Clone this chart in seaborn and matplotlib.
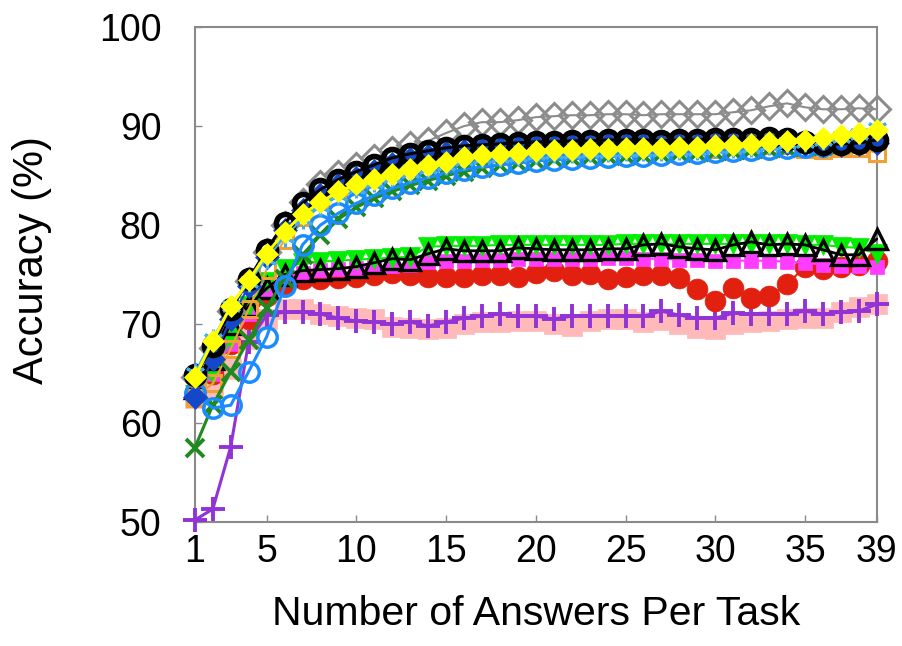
import matplotlib
matplotlib.use("Agg")
import matplotlib.pyplot as plt
import pandas as pd
import seaborn as sns

# ---------------- data ----------------
answers = list(range(1, 40))
x_ticks = [1, 5, 10, 15, 20, 25, 30, 35, 39]
y_ticks = [50, 60, 70, 80, 90, 100]

pink_squares = [62.5, 63.5, 65.5, 68.5, 70.5, 71.5, 71.5, 71.0, 70.8, 70.6, 70.5, 69.7, 69.6, 69.5,
                69.6, 70.0, 70.2, 70.2, 70.3, 70.3, 70.0, 69.8, 70.3, 70.5, 70.5, 70.2, 70.4, 70.0,
                69.6, 69.5, 70.0, 70.2, 70.3, 70.5, 70.6, 70.6, 71.2, 71.7, 72.0]
purple_plus = [50.2, 51.3, 57.6, 68.2, 70.9, 71.2, 71.2, 71.0, 70.6, 70.3, 70.2, 70.0, 70.2, 69.8,
               70.2, 70.6, 70.8, 71.0, 70.8, 70.8, 70.5, 70.8, 70.8, 70.8, 70.8, 70.8, 71.3, 70.9,
               70.6, 70.6, 71.1, 71.0, 71.0, 71.0, 71.3, 71.0, 71.2, 71.3, 72.0]
red_circles = [63.0, 65.0, 68.0, 70.5, 72.8, 74.0, 74.5, 74.6, 74.7, 74.8, 75.0, 75.2, 75.0, 74.8,
               74.8, 74.8, 75.0, 75.0, 74.8, 75.2, 75.4, 75.0, 75.1, 74.6, 74.8, 75.0, 75.0, 74.7,
               73.5, 72.3, 73.6, 72.6, 72.8, 74.0, 75.8, 75.6, 75.8, 76.0, 76.4]
magenta_squares = [63.0, 65.0, 68.0, 71.0, 73.2, 74.7, 75.2, 75.5, 75.6, 75.7, 75.8, 75.9, 76.0, 76.3,
                   76.4, 76.4, 76.5, 76.5, 76.6, 76.6, 76.6, 76.6, 76.6, 76.7, 76.7, 76.6, 76.6, 76.5,
                   76.5, 76.4, 76.4, 76.4, 76.4, 76.3, 76.2, 76.0, 75.9, 75.9, 75.8]
lime_down_triangles = [62.8, 65.0, 68.5, 71.8, 74.2, 75.6, 76.2, 76.3, 76.4, 76.5, 76.6, 76.7, 76.8, 77.8,
                       77.9, 77.9, 77.9, 78.0, 78.0, 78.0, 78.0, 78.0, 78.0, 78.0, 78.1, 78.1, 78.1, 78.1,
                       78.1, 78.1, 78.1, 78.1, 78.1, 78.1, 78.0, 78.0, 77.8, 77.7, 77.1]
black_up_triangles = [63.5, 66.5, 70.0, 71.8, 73.6, 75.0, 75.4, 75.5, 75.6, 75.8, 76.2, 76.6, 76.5, 77.1,
                      77.6, 77.4, 77.4, 77.4, 77.7, 77.6, 77.5, 77.5, 77.5, 77.6, 77.6, 78.0, 78.1, 77.8,
                      77.6, 77.5, 78.0, 78.3, 78.0, 78.1, 78.0, 77.5, 77.0, 77.0, 78.6]
orange_squares = [62.5, 64.0, 67.5, 71.5, 75.5, 78.5, 80.8, 82.5, 83.6, 84.5, 85.2, 85.8, 86.3, 86.7,
                  87.0, 87.2, 87.4, 87.5, 87.6, 87.7, 87.8, 87.8, 87.8, 87.9, 87.9, 87.9, 88.0, 88.0,
                  88.0, 87.7, 88.0, 88.1, 88.1, 88.1, 87.7, 87.6, 87.8, 87.8, 87.3]
green_x = [57.5, 61.8, 65.2, 68.4, 71.6, 74.6, 77.0, 79.0, 80.6, 81.8, 82.7, 83.4, 84.0, 84.5,
           85.0, 85.4, 85.8, 86.1, 86.3, 86.5, 86.7, 86.8, 86.9, 87.0, 87.0, 87.1, 87.2, 87.3,
           87.3, 87.4, 87.5, 87.6, 87.7, 87.8, 87.9, 88.0, 88.2, 88.4, 88.6]
blue_circles = [63.0, 61.5, 61.8, 65.2, 68.7, 73.8, 78.0, 80.0, 81.2, 82.2, 83.0, 83.7, 84.3, 84.8,
                85.3, 85.6, 85.9, 86.1, 86.3, 86.5, 86.6, 86.7, 86.8, 86.9, 87.0, 87.0, 87.1, 87.2,
                87.3, 87.4, 87.5, 87.6, 87.7, 87.8, 87.9, 88.0, 88.2, 88.4, 88.6]
gray_diamonds = [64.6, 67.6, 71.3, 74.3, 77.3, 80.0, 82.3, 84.2, 85.2, 86.0, 86.8, 87.6, 88.1, 88.5,
                 89.3, 90.0, 90.4, 90.4, 90.6, 90.9, 91.0, 91.1, 91.1, 91.2, 91.2, 91.1, 91.2, 91.2,
                 91.2, 91.2, 91.4, 91.6, 92.0, 92.3, 91.9, 91.7, 91.7, 91.8, 91.7]
navy_diamonds = [62.6, 66.5, 70.5, 73.8, 76.8, 79.5, 81.5, 83.0, 84.0, 84.8, 85.5, 86.2, 86.7, 87.0,
                 87.3, 87.5, 87.7, 87.8, 87.9, 88.0, 88.0, 88.1, 88.1, 88.2, 88.2, 88.2, 88.1, 88.2,
                 88.2, 88.3, 88.3, 88.3, 88.4, 88.3, 88.2, 88.1, 88.1, 88.2, 88.3]
black_circles = [64.8, 67.8, 71.5, 74.5, 77.5, 80.2, 82.2, 83.6, 84.6, 85.4, 86.1, 86.8, 87.2, 87.5,
                 87.8, 88.0, 88.1, 88.2, 88.3, 88.4, 88.4, 88.5, 88.5, 88.6, 88.6, 88.6, 88.5, 88.6,
                 88.6, 88.7, 88.7, 88.7, 88.8, 88.7, 88.4, 88.2, 88.2, 88.3, 88.6]
skyblue_stars = [65.1, 68.5, 71.8, 74.2, 76.6, 78.8, 80.6, 81.9, 83.0, 83.7, 84.4, 84.9, 85.4, 85.8,
                 86.1, 86.6, 86.8, 86.9, 87.0, 87.2, 87.3, 87.3, 87.4, 87.4, 87.5, 87.5, 87.5, 87.6,
                 87.6, 87.8, 87.8, 87.9, 88.1, 88.3, 88.4, 88.6, 88.9, 89.2, 89.8]
yellow_diamonds = [64.6, 68.3, 71.8, 74.4, 77.1, 79.3, 81.1, 82.3, 83.4, 84.1, 84.7, 85.2, 85.7, 86.1,
                   86.4, 86.9, 87.1, 87.2, 87.3, 87.5, 87.6, 87.6, 87.7, 87.7, 87.8, 87.8, 87.8, 87.9,
                   87.9, 88.1, 88.1, 88.2, 88.4, 88.5, 88.6, 88.8, 89.1, 89.3, 89.6]

# ---------------- styles ----------------
series = [
    (pink_squares, dict(color="#FFB9B9", marker="s", markersize=15, markerfacecolor="#FFB9B9",
                        markeredgecolor="#FFB9B9", markeredgewidth=0.5, linewidth=1.5)),
    (purple_plus, dict(color="#9233D6", marker="+", markersize=17, markerfacecolor="#9233D6",
                       markeredgecolor="#9233D6", markeredgewidth=2.8, linewidth=2.2)),
    (red_circles, dict(color="#E2200F", marker="o", markersize=15, markerfacecolor="#E2200F",
                       markeredgecolor="#E2200F", markeredgewidth=0.5, linewidth=1.5)),
    (magenta_squares, dict(color="#FF3CFF", marker="s", markersize=10, markerfacecolor="#FF3CFF",
                           markeredgecolor="#FF3CFF", markeredgewidth=0.5, linewidth=1.5)),
    (lime_down_triangles, dict(color="#00EE00", marker="v", markersize=15, markerfacecolor="#00EE00",
                               markeredgecolor="#00EE00", markeredgewidth=0.5, linewidth=1.5)),
    (black_up_triangles, dict(color="black", marker="^", markersize=14, markerfacecolor="none",
                              markeredgecolor="black", markeredgewidth=2.4, linewidth=2.0)),
    (orange_squares, dict(color="#F2A033", marker="s", markersize=12, markerfacecolor="none",
                          markeredgecolor="#F2A033", markeredgewidth=2.2, linewidth=1.5)),
    (green_x, dict(color="#1F8A1F", marker="x", markersize=13, markerfacecolor="#1F8A1F",
                   markeredgecolor="#1F8A1F", markeredgewidth=2.8, linewidth=2.2)),
    (blue_circles, dict(color="#1A8CFF", marker="o", markersize=14, markerfacecolor="none",
                        markeredgecolor="#1A8CFF", markeredgewidth=2.5, linewidth=2.2)),
    (gray_diamonds, dict(color="#8C8C8C", marker="D", markersize=13, markerfacecolor="none",
                         markeredgecolor="#8C8C8C", markeredgewidth=2.2, linewidth=1.5)),
    (navy_diamonds, dict(color="#1448C8", marker="D", markersize=12, markerfacecolor="#1448C8",
                         markeredgecolor="#1448C8", markeredgewidth=0.5, linewidth=1.5)),
    (black_circles, dict(color="black", marker="o", markersize=13, markerfacecolor="none",
                         markeredgecolor="black", markeredgewidth=4.0, linewidth=2.2)),
    (skyblue_stars, dict(color="#46AEEE", marker=(6, 2, 0), markersize=14, markerfacecolor="#46AEEE",
                         markeredgecolor="#46AEEE", markeredgewidth=2.2, linewidth=1.5)),
    (yellow_diamonds, dict(color="#FFFF00", marker="D", markersize=11, markerfacecolor="#FFFF00",
                           markeredgecolor="#FFFF00", markeredgewidth=0.5, linewidth=2.2)),
]

sns.set_style("ticks")
plt.rcParams["font.family"] = ["Liberation Sans", "DejaVu Sans"]

fig, ax = plt.subplots(figsize=(9.02, 6.46), dpi=100)
fig.subplots_adjust(left=0.216, right=0.972, top=0.958, bottom=0.192)

for z, (vals, st) in enumerate(series):
    df = pd.DataFrame({"answers": answers, "accuracy": vals})
    sns.lineplot(data=df, x="answers", y="accuracy", ax=ax, legend=False,
                 zorder=3 + z, clip_on=False, **st)

ax.set_xlim(1, 39)
ax.set_ylim(50, 100)
ax.set_xticks(x_ticks)
ax.set_yticks(y_ticks)
ax.set_xticklabels([str(t) for t in x_ticks])
ax.set_yticklabels([str(t) for t in y_ticks])

for side in ["top", "bottom", "left", "right"]:
    ax.spines[side].set_visible(True)
    ax.spines[side].set_color("#8A8A8A")
    ax.spines[side].set_linewidth(1.5)
    ax.spines[side].set_zorder(2)

ax.tick_params(axis="both", direction="in", length=5, width=1, color="#8A8A8A",
               labelsize=27, labelcolor="black")
ax.tick_params(axis="x", pad=9)
ax.tick_params(axis="y", pad=24)

ax.set_xlabel("Number of Answers Per Task", fontsize=29.5, labelpad=18, color="black")
ax.set_ylabel("Accuracy (%)", fontsize=30, color="black")
ax.yaxis.set_label_coords(-0.21, 0.53)
ax.grid(False)

fig.savefig("out.png", dpi=100, facecolor="white")
